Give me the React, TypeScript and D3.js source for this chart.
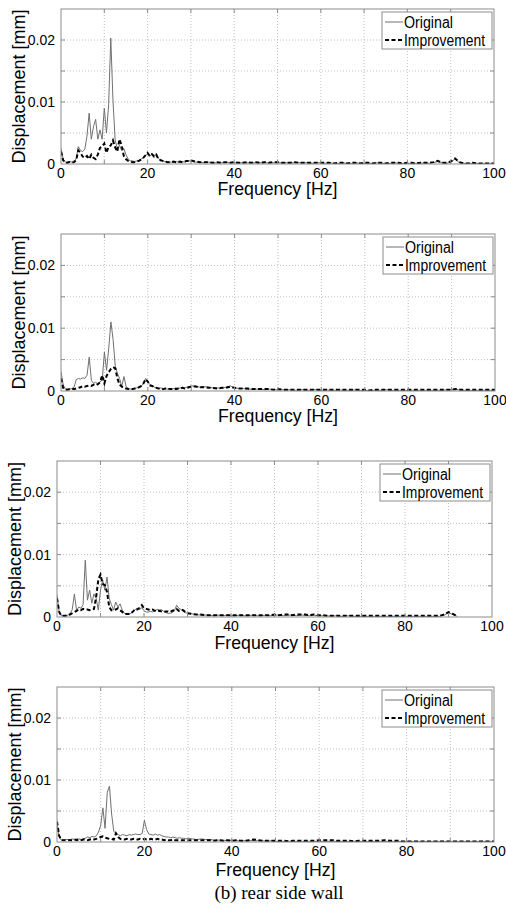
import { useEffect, useRef } from 'react';
import * as d3 from 'd3';

const W = 506;
const H = 915;

// frequency grid [Hz]: 0.5 Hz steps up to 30 Hz, then 1 Hz steps to 100 Hz
const FREQ = [...d3.range(0, 30.5, 0.5), ...d3.range(31, 101, 1)];
const UNIT = 1e-4; // series values are in 1e-4 mm

const X_GRID = [10, 20, 30, 40, 50, 60, 70, 80, 90];
const Y_GRID = [0.005, 0.01, 0.015, 0.02];
const X_LABELS = [0, 20, 40, 60, 80, 100];
const Y_LABELS = [0, 0.01, 0.02];
const LEGEND = ['Original', 'Improvement'];

const P1_ORIG = [
  25, 8, 3, 3, 4, 3, 5, 8, 28, 22,
  20, 24, 45, 82, 40, 60, 72, 40, 55, 40,
  90, 50, 95, 203, 103, 39, 25, 30, 22, 25,
  15, 8, 5, 5, 4, 5, 6, 8, 10, 14,
  16, 12, 16, 14, 15, 9, 6, 5, 4, 4,
  3, 3, 3, 4, 3, 3, 4, 3, 4, 5, 5,
  3, 3, 2, 3, 2, 2, 2, 3, 2, 2,
  2, 2, 2, 2, 2, 2, 2, 2, 2, 2,
  2, 2, 2, 2, 2, 2, 2, 1, 2, 2,
  1, 2, 1, 1, 2, 1, 1, 2, 1, 1,
  1, 1, 2, 1, 1, 1, 2, 1, 1, 1,
  1, 1, 1, 2, 1, 2, 4, 2, 1, 3,
  8, 2, 1, 1, 1, 1, 1, 1, 1, 1,
];
const P1_IMP = [
  20, 6, 2, 2, 3, 2, 3, 6, 22, 18,
  12, 10, 13, 8, 15, 10, 8, 15, 26, 28,
  33, 18, 28, 30, 38, 27, 20, 40, 30, 13,
  8, 5, 4, 3, 3, 4, 5, 7, 10, 14,
  18, 13, 16, 12, 15, 8, 6, 5, 4, 3,
  3, 3, 4, 3, 3, 4, 3, 4, 5, 5, 6,
  4, 3, 3, 3, 2, 3, 2, 3, 2, 3,
  2, 2, 3, 2, 3, 2, 3, 2, 3, 3,
  2, 2, 2, 3, 2, 2, 2, 2, 2, 2,
  2, 2, 1, 2, 2, 1, 2, 2, 1, 2,
  2, 1, 2, 2, 1, 2, 2, 2, 1, 2,
  2, 1, 2, 2, 2, 3, 5, 2, 2, 4,
  9, 3, 1, 1, 2, 1, 1, 1, 1, 1,
];

const P2_ORIG = [
  31, 10, 3, 3, 3, 4, 6, 18, 20, 19,
  21, 20, 25, 54, 17, 12, 14, 11, 15, 17,
  62, 33, 68, 110, 82, 40, 28, 20, 7, 23,
  7, 4, 3, 3, 4, 5, 6, 8, 12, 20,
  14, 10, 9, 6, 5, 4, 5, 4, 4, 3,
  4, 3, 4, 5, 4, 5, 6, 5, 6, 7, 8,
  8, 6, 7, 6, 5, 5, 4, 6, 8, 5,
  4, 4, 3, 3, 3, 3, 2, 3, 2, 2,
  2, 2, 2, 1, 2, 2, 1, 2, 2, 1,
  2, 1, 1, 2, 1, 1, 1, 2, 1, 1,
  1, 1, 1, 1, 2, 1, 1, 1, 1, 1,
  1, 1, 1, 1, 1, 1, 1, 1, 2, 2,
  3, 1, 1, 1, 1, 1, 1, 1, 1, 1,
];
const P2_IMP = [
  20, 5, 2, 2, 3, 3, 3, 4, 5, 6,
  8, 7, 8, 9, 8, 10, 9, 11, 14, 25,
  12, 24, 30, 35, 38, 36, 20, 10, 7, 5,
  4, 3, 3, 3, 4, 5, 6, 8, 12, 19,
  15, 9, 8, 6, 5, 4, 4, 3, 4, 3,
  3, 3, 4, 3, 4, 4, 5, 4, 5, 6, 7,
  7, 6, 6, 5, 5, 4, 5, 5, 7, 5,
  4, 4, 4, 3, 3, 3, 3, 3, 2, 3,
  2, 2, 2, 2, 2, 2, 2, 2, 2, 2,
  2, 2, 2, 2, 2, 2, 2, 2, 2, 2,
  1, 2, 2, 2, 2, 2, 2, 2, 2, 2,
  2, 2, 2, 2, 2, 2, 2, 2, 2, 2,
  3, 2, 2, 2, 2, 2, 2, 2, 2, 2,
];

const P3_ORIG = [
  35, 8, 2, 2, 2, 3, 5, 12, 37, 10,
  16, 14, 20, 91, 27, 43, 22, 37, 30, 11,
  43, 59, 43, 64, 30, 20, 11, 24, 16, 21,
  11, 6, 5, 5, 6, 8, 12, 14, 12, 15,
  10, 8, 8, 9, 8, 10, 12, 11, 12, 9,
  7, 6, 6, 7, 10, 19, 14, 12, 9, 7, 6,
  5, 4, 3, 3, 3, 2, 3, 2, 3, 2,
  2, 3, 2, 2, 3, 2, 2, 3, 2, 3,
  3, 2, 3, 3, 2, 3, 3, 2, 3, 2,
  2, 2, 1, 2, 1, 1, 2, 1, 1, 1,
  1, 1, 1, 1, 1, 1, 1, 1, 1, 1,
  1, 1, 1, 1, 1, 1, 1, 1, 3, 7,
  4, 1, null, null, null, null, null, null, null, null,
];
const P3_IMP = [
  30, 8, 2, 2, 2, 3, 4, 6, 8, 10,
  12, 11, 13, 12, 12, 11, 12, 13, 32, 60,
  68, 53, 51, 40, 16, 11, 11, 12, 14, 11,
  8, 5, 5, 5, 6, 9, 13, 12, 15, 19,
  14, 13, 12, 11, 12, 10, 9, 10, 9, 8,
  9, 9, 8, 10, 11, 13, 10, 12, 11, 8, 6,
  5, 4, 4, 3, 3, 3, 3, 3, 3, 3,
  3, 3, 3, 3, 3, 3, 3, 3, 3, 4,
  3, 4, 4, 3, 4, 4, 4, 3, 4, 3,
  3, 2, 2, 2, 2, 2, 2, 2, 2, 2,
  2, 2, 2, 2, 2, 2, 2, 2, 2, 2,
  2, 2, 2, 2, 2, 2, 2, 2, 4, 8,
  5, 1, null, null, null, null, null, null, null, null,
];

const P4_ORIG = [
  30, 8, 3, 3, 4, 4, 4, 5, 4, 5,
  5, 4, 5, 6, 8, 7, 9, 8, 10, 16,
  27, 55, 22, 80, 90, 45, 17, 14, 12, 10,
  12, 11, 10, 12, 11, 12, 13, 12, 12, 14,
  35, 20, 13, 12, 11, 13, 11, 12, 10, 9,
  8, 8, 7, 8, 7, 6, 7, 6, 6, 5, 6,
  5, 4, 5, 4, 4, 3, 3, 3, 2, 3,
  2, 2, 2, 2, 2, 2, 2, 1, 2, 1,
  1, 1, 1, 1, 1, 1, 1, 1, 1, 1,
  1, 1, 1, 1, 1, 1, 1, 1, 1, 1,
  1, 1, 1, 1, 1, 1, 1, 1, 1, 1,
  1, 1, 1, 1, 1, 1, 1, 1, 1, 1,
  1, 1, 1, 1, 1, 1, 1, 1, 1, 1,
];
const P4_IMP = [
  33, 10, 3, 3, 3, 3, 3, 3, 4, 3,
  4, 3, 4, 4, 3, 4, 5, 4, 5, 6,
  8, 9, 7, 6, 5, 5, 4, 14, 8, 5,
  4, 4, 5, 4, 4, 5, 4, 4, 5, 4,
  5, 4, 4, 5, 4, 4, 5, 4, 4, 3,
  4, 3, 3, 4, 3, 3, 3, 3, 3, 3, 3,
  3, 3, 3, 3, 3, 2, 3, 2, 3, 2,
  3, 2, 2, 3, 4, 3, 2, 2, 2, 2,
  2, 2, 1, 2, 2, 2, 2, 2, 2, 3,
  3, 3, 3, 2, 2, 2, 2, 1, 2, 2,
  2, 2, 2, 2, 3, 2, 2, 2, 1, 1,
  1, 1, 1, 1, 1, 1, 1, 1, 1, 1,
  1, 1, 1, 1, 1, 1, 1, 1, 1, 1,
];

// plot boxes of the four stacked axes (px)
const PANELS = [
  { orig: P1_ORIG, imp: P1_IMP, left: 61, right: 494, top: 9, bottom: 164, labelDy: 31 },
  { orig: P2_ORIG, imp: P2_IMP, left: 61, right: 495, top: 234, bottom: 391, labelDy: 31 },
  { orig: P3_ORIG, imp: P3_IMP, left: 57, right: 492, top: 461, bottom: 617, labelDy: 32 },
  { orig: P4_ORIG, imp: P4_IMP, left: 57, right: 494, top: 687, bottom: 842, labelDy: 34 },
];

const SANS = "'Liberation Sans', Arial, Helvetica, sans-serif";
const SERIF = "'Liberation Serif', 'Times New Roman', serif";
const AXIS_COLOR = '#8c8c8c';
const GRID_COLOR = '#b0b0b0';
const ORIG_COLOR = '#707070';
const DASH = '4,2.5';
// the source figure's labels are horizontally condensed
const XLABEL_WIDTH = 120;
const LEGEND_WIDTHS = [49, 81];

function drawPanel(svg, p, i) {
  const x = d3.scaleLinear().domain([0, 100]).range([p.left, p.right]);
  const y = d3.scaleLinear().domain([0, 0.025]).range([p.bottom, p.top]);
  const g = svg.append('g');
  const clipId = `plot-clip-${i}`;

  g.append('clipPath').attr('id', clipId)
    .append('rect')
    .attr('x', p.left).attr('y', p.top)
    .attr('width', p.right - p.left).attr('height', p.bottom - p.top);

  // dotted grid
  g.append('g').selectAll('line').data(X_GRID).join('line')
    .attr('x1', d => x(d)).attr('x2', d => x(d))
    .attr('y1', p.top).attr('y2', p.bottom)
    .attr('stroke', GRID_COLOR).attr('stroke-width', 0.8).attr('stroke-dasharray', '1,2');
  g.append('g').selectAll('line').data(Y_GRID).join('line')
    .attr('x1', p.left).attr('x2', p.right)
    .attr('y1', d => y(d)).attr('y2', d => y(d))
    .attr('stroke', GRID_COLOR).attr('stroke-width', 0.8).attr('stroke-dasharray', '1,2');

  const line = d3.line()
    .defined(d => d != null)
    .x((_, k) => x(FREQ[k]))
    .y(d => y(d * UNIT));

  const plot = g.append('g').attr('clip-path', `url(#${clipId})`);
  plot.append('path').datum(p.orig)
    .attr('d', line).attr('fill', 'none')
    .attr('stroke', ORIG_COLOR).attr('stroke-width', 1).attr('stroke-linejoin', 'round');
  plot.append('path').datum(p.imp)
    .attr('d', line).attr('fill', 'none')
    .attr('stroke', '#000').attr('stroke-width', 2).attr('stroke-dasharray', DASH);

  // inner tick marks on all sides
  const ticks = g.append('g').attr('stroke', AXIS_COLOR).attr('stroke-width', 1);
  X_GRID.forEach(d => {
    ticks.append('line').attr('x1', x(d)).attr('x2', x(d)).attr('y1', p.bottom).attr('y2', p.bottom - 4);
    ticks.append('line').attr('x1', x(d)).attr('x2', x(d)).attr('y1', p.top).attr('y2', p.top + 4);
  });
  Y_GRID.forEach(d => {
    ticks.append('line').attr('x1', p.left).attr('x2', p.left + 4).attr('y1', y(d)).attr('y2', y(d));
    ticks.append('line').attr('x1', p.right).attr('x2', p.right - 4).attr('y1', y(d)).attr('y2', y(d));
  });

  g.append('rect')
    .attr('x', p.left).attr('y', p.top)
    .attr('width', p.right - p.left).attr('height', p.bottom - p.top)
    .attr('fill', 'none').attr('stroke', AXIS_COLOR).attr('stroke-width', 1);

  // tick labels
  g.append('g').selectAll('text').data(X_LABELS).join('text')
    .attr('x', d => x(d)).attr('y', p.bottom + 13.5)
    .attr('text-anchor', 'middle')
    .attr('font-family', SANS).attr('font-size', 14)
    .text(d => d);
  g.append('g').selectAll('text').data(Y_LABELS).join('text')
    .attr('x', p.left - 6).attr('y', d => y(d) + 5)
    .attr('text-anchor', 'end')
    .attr('font-family', SANS).attr('font-size', 14)
    .text(d => (d === 0 ? '0' : d.toFixed(2)));

  // axis labels
  g.append('text')
    .attr('x', (p.left + p.right) / 2 - XLABEL_WIDTH / 2).attr('y', p.bottom + p.labelDy)
    .attr('font-family', SANS).attr('font-size', 18)
    .attr('textLength', XLABEL_WIDTH).attr('lengthAdjust', 'spacingAndGlyphs')
    .text('Frequency [Hz]');
  g.append('text')
    .attr('transform', `translate(${p.left - 36},${(p.top + p.bottom) / 2}) rotate(-90)`)
    .attr('text-anchor', 'middle')
    .attr('font-family', SANS).attr('font-size', 18)
    .text('Displacement [mm]');

  // legend
  const lx = p.right - 112;
  const ly = p.top + 3;
  const leg = g.append('g');
  leg.append('rect')
    .attr('x', lx).attr('y', ly).attr('width', 110).attr('height', 37)
    .attr('fill', '#fff').attr('stroke', AXIS_COLOR).attr('stroke-width', 1);
  LEGEND.forEach((name, k) => {
    const cy = ly + 10 + k * 18;
    leg.append('line')
      .attr('x1', lx + 3).attr('x2', lx + 21).attr('y1', cy).attr('y2', cy)
      .attr('stroke', k === 0 ? ORIG_COLOR : '#000')
      .attr('stroke-width', k === 0 ? 1 : 2)
      .attr('stroke-dasharray', k === 0 ? null : DASH);
    leg.append('text')
      .attr('x', lx + 22).attr('y', cy + 6)
      .attr('font-family', SANS).attr('font-size', 16)
      .attr('textLength', LEGEND_WIDTHS[k]).attr('lengthAdjust', 'spacingAndGlyphs')
      .text(name);
  });
}

export default function App() {
  const svgRef = useRef(null);

  useEffect(() => {
    const svg = d3.select(svgRef.current);
    svg.selectAll('*').remove();
    svg.append('rect').attr('width', W).attr('height', H).attr('fill', '#fff');

    PANELS.forEach((p, i) => drawPanel(svg, p, i));

    svg.append('text')
      .attr('x', 279).attr('y', 899)
      .attr('text-anchor', 'middle')
      .attr('font-family', SERIF).attr('font-size', 19)
      .text('(b) rear side wall');
  }, []);

  return (
    <svg
      ref={svgRef}
      width={W}
      height={H}
      style={{ position: 'absolute', left: 0, top: 0, display: 'block' }}
    />
  );
}
